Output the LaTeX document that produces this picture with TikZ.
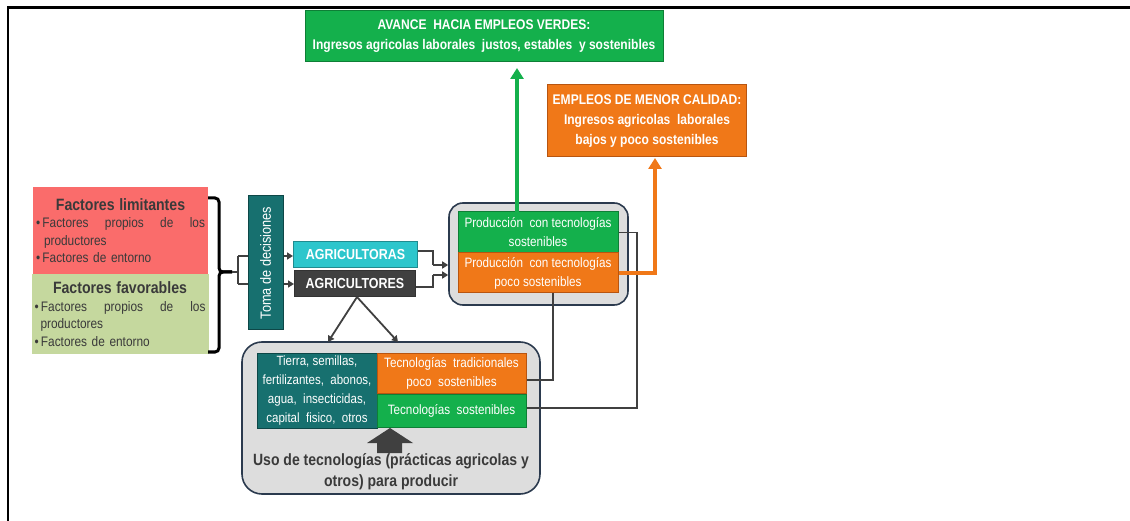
\documentclass[tikz,border=0pt]{standalone}
\usepackage{fontspec}
\setmainfont{Liberation Sans}[FakeStretch=0.86]
\usetikzlibrary{arrows.meta,calc}
\definecolor{cverde}{HTML}{14B04C}
\definecolor{cverdeB}{HTML}{0E7F36}
\definecolor{cnaranja}{HTML}{F07818}
\definecolor{cnaranjaB}{HTML}{B85510}
\definecolor{crojo}{HTML}{FA6C6B}
\definecolor{cverdeclaro}{HTML}{C5D89E}
\definecolor{cteal}{HTML}{17706F}
\definecolor{ctealB}{HTML}{0D4747}
\definecolor{ccian}{HTML}{2DC6CC}
\definecolor{cgris}{HTML}{404040}
\definecolor{cmarco}{HTML}{2B3A4E}
\definecolor{cfondo}{HTML}{DDDDDD}
\definecolor{ctexto}{HTML}{3A3A3A}
\definecolor{clinea}{HTML}{404040}
\begin{document}
\begin{tikzpicture}[x=1pt,y=-1pt,
  box/.style={draw, line width=1pt, inner sep=0pt, align=center, text=white},
  greenbox/.style={box, fill=cverde, draw=cverdeB},
  orangebox/.style={box, fill=cnaranja, draw=cnaranjaB},
  tealbox/.style={box, fill=cteal, draw=ctealB},
  roundbox/.style={draw=cmarco, line width=1.6pt, fill=cfondo, rounded corners=14pt, inner sep=0pt},
  factorbox/.style={inner sep=3pt, text=ctexto, align=left},
  conn/.style={draw=clinea, line width=1.8pt},
  connarrow/.style={conn, -{Triangle[width=7pt,length=6pt]}},
  bigarrowg/.style={draw=cverde, line width=3.5pt, -{Triangle[width=13pt,length=11pt]}},
  bigarrowo/.style={draw=cnaranja, line width=3.5pt, -{Triangle[width=13pt,length=11pt]}},
]
\useasboundingbox (0,0) rectangle (1130,521);
% frame
\draw[line width=3pt] (7,8) -- (1130,8);
\draw[line width=2.5pt] (8,8) -- (8,521);

% top boxes
\node[greenbox, minimum width=358pt, minimum height=51pt, font=\bfseries\fontsize{14}{19.5}\selectfont] (top) at (484,36)
  {AVANCE\ \ HACIA EMPLEOS VERDES:\\Ingresos agricolas laborales\ \ justos, estables\ \ y sostenibles};
\node[orangebox, minimum width=199pt, minimum height=72pt, font=\bfseries\fontsize{14}{20}\selectfont] (low) at (647,121)
  {EMPLEOS DE MENOR CALIDAD:\\Ingresos agricolas\ \ laborales\\bajos y poco sostenibles};

% factor boxes
\node[factorbox, fill=crojo, minimum width=175pt, minimum height=87pt, text width=169pt, font=\fontsize{13.8}{17.5}\selectfont] (lim) at (120.5,230.5)
  {\centering{\bfseries\fontsize{16.4}{20}\selectfont Factores limitantes\par}
   \raggedright
   \textbullet\,Factores\hfill propios\hfill de\hfill los\par
   \hspace*{8pt}productores\par
   \textbullet\,Factores de entorno\par};
\node[factorbox, fill=cverdeclaro, minimum width=177pt, minimum height=80pt, text width=171pt, font=\fontsize{13.8}{17.5}\selectfont, anchor=north] (fav) at (120,274)
  {\centering{\bfseries\fontsize{16.4}{20}\selectfont Factores favorables\par}
   \raggedright
   \textbullet\,Factores\hfill propios\hfill de\hfill los\par
   \hspace*{6pt}productores\par
   \textbullet\,Factores de entorno\par};

% brace
\coordinate (bt) at (232,272);
\draw[line width=3pt, rounded corners=4pt] (208,198) -- (219,198) -- (219,272) -- (bt);
\draw[line width=3pt, rounded corners=4pt] (bt) -- (219,272) -- (219,352) -- (208,352);

% agricultoras / agricultores
\node[box, fill=ccian, draw=ccian!70!black, minimum width=124pt, minimum height=26pt, font=\bfseries\fontsize{14.5}{16}\selectfont] (agA) at (355.5,255) {AGRICULTORAS};
\node[box, fill=cgris, draw=black!80, minimum width=121pt, minimum height=26pt, font=\bfseries\fontsize{14.5}{16}\selectfont] (agO) at (355,284) {AGRICULTORES};

% bracket lines behind decision box
\coordinate (br1) at (238,256);
\coordinate (br2) at (238,284);
\draw[conn] (bt) -- (238,272);
\draw[conn] (br1) -- (br2);
\draw[connarrow] (br1) -- (agA.west |- br1);
\draw[connarrow] (br2) -- (agO.west |- br2);

% decision box
\node[tealbox, minimum width=35pt, minimum height=134pt] (toma) at (265.5,263) {};
\node[text=white, rotate=90, font=\fontsize{14.8}{16}\selectfont] (tomat) at (toma.center) {Toma de decisiones};

% production box
\node[roundbox, minimum width=179pt, minimum height=102pt] (prod) at (538.5,254) {};
\node[greenbox, minimum width=160pt, minimum height=41pt, font=\fontsize{13.6}{19}\selectfont] (pg) at (538,232.5) {Producción\ \ con tecnologías\\sostenibles};
\node[orangebox, minimum width=160pt, minimum height=40pt, font=\fontsize{13.6}{19}\selectfont] (po) at (538,273) {Producción\ \ con tecnologías\\poco sostenibles};

% arrows into production
\coordinate (j1) at (433,251);
\coordinate (j2) at (433,287);
\draw[conn] (agA.east |- j1) -- (j1) -- (433,265);
\draw[connarrow] (433,265) -- (prod.west |- 0,265);
\draw[conn] (agO.east |- j2) -- (j2) -- (433,275);
\draw[connarrow] (433,275) -- (prod.west |- 0,275);

% bottom box
\node[roundbox, rounded corners=20pt, minimum width=298pt, minimum height=152pt] (uso) at (391,418) {};
\node[tealbox, minimum width=120pt, minimum height=75pt, font=\fontsize{13.4}{18.8}\selectfont] (ins) at (317,390.5)
  {Tierra, semillas,\\fertilizantes,\ \ abonos,\\agua,\ \ insecticidas,\\capital\ \ fisico,\ \ otros};
\node[orangebox, minimum width=149pt, minimum height=40pt, font=\fontsize{13.6}{19}\selectfont] (tt) at (451.5,373) {Tecnologías\ \ tradicionales\\poco\ \ sostenibles};
\node[greenbox, minimum width=149pt, minimum height=33pt, font=\fontsize{13.6}{19}\selectfont] (ts) at (451.5,410.5) {Tecnologías\ \ sostenibles};
\fill[cgris] (367,443) -- (390,428) -- (413,443) -- (402,443) -- (402,453) -- (377,453) -- (377,443) -- cycle;
\node[text=ctexto, align=center, font=\bfseries\fontsize{16.3}{21}\selectfont] (usot) at (391,472)
  {Uso de tecnologías (prácticas agricolas y\\otros) para producir};

% arrows from agricultores down
\coordinate (ad) at (357,297);
\draw[connarrow] (ad) -- (328,342);
\draw[connarrow] (ad) -- (398,342);

% feedback lines
\draw[conn] (553,293) -- (553,380) -- (tt.east |- 0,380);
\draw[conn] (pg.east) -- (637,232.5) -- (637,408) -- (ts.east |- 0,408);

% result arrows
\draw[bigarrowg] (517,212) -- (517,68);
\draw[bigarrowo] (po.east) -- (655,273) -- (655,158);
\end{tikzpicture}
\end{document}
